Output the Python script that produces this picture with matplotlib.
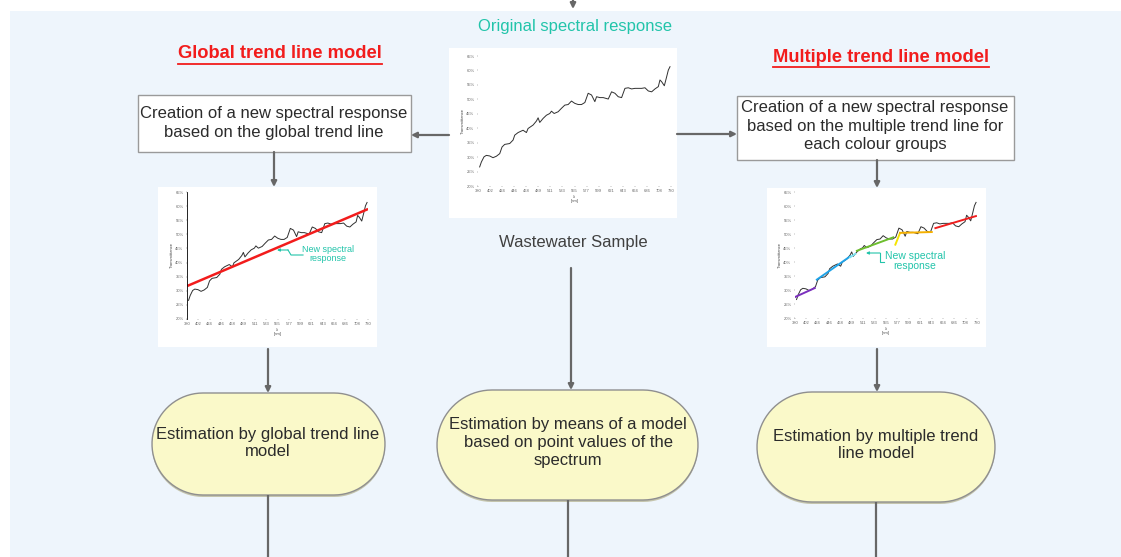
import numpy as np
import matplotlib.pyplot as plt
from matplotlib.patches import Rectangle, Polygon

#++++++++++++++++++++++++++++++++++++
# Data
#++++++++++++++++++++++++++++++++++++

# original spectral response of the wastewater sample
wl_nm = [383.0, 386.1, 390.9, 395.1, 401.2, 407.2, 413.3, 419.4, 423.6, 428.4,
         437.5, 443.6, 446.6, 452.7, 461.7, 467.8, 470.8, 479.9, 486.0, 489.0,
         492.0, 498.1, 504.1, 510.2, 513.2, 518.1, 525.3, 531.4, 537.4, 543.5,
         549.5, 555.6, 561.7, 567.7, 573.8, 579.8, 585.9, 591.9, 595.0, 601.0,
         607.1, 616.2, 622.2, 628.3, 634.3, 640.4, 646.5, 652.5, 658.6, 664.6,
         676.7, 682.8, 688.8, 694.9, 700.9, 707.0, 710.0, 713.0, 717.9, 722.1,
         725.1, 728.2]
transmittance = [26.6, 28.3, 30.1, 30.6, 30.4, 29.8, 30.3, 31.2, 33.5, 34.4,
                 34.7, 35.9, 37.6, 38.5, 39.3, 38.5, 39.9, 41.1, 42.5, 43.6,
                 42.0, 43.4, 44.5, 45.1, 45.9, 45.1, 45.7, 46.9, 48.0, 48.2,
                 49.4, 48.6, 48.2, 48.2, 48.9, 52.1, 51.5, 49.2, 50.9, 50.6,
                 50.6, 50.1, 52.6, 52.1, 50.9, 50.6, 53.8, 54.0, 53.6, 53.8,
                 53.8, 54.0, 52.9, 52.6, 53.6, 54.4, 56.7, 56.1, 54.7, 57.8,
                 60.1, 61.3]

# global trend line (left model)
global_wl = [383, 728]
global_t = [31.9, 58.8]

# multiple trend lines, one per colour group (right model)
group_colors = ['#7B2FBE', '#1FA3E8', '#7FE3F0', '#6DBE2E', '#F5E400', '#F5B000', '#F01E1E']
group_wl = [[379, 418], [422, 486], [486, 496], [499, 569], [573, 582], [582, 643], [650, 728]]
group_t = [[27.4, 30.7], [33.7, 42.0], [41.7, 42.9], [44.0, 48.8], [46.2, 50.4], [50.4, 50.7], [52.1, 56.4]]

y_ticks = [20, 25, 30, 35, 40, 45, 50, 55, 60, 65]
y_tick_labels = ['20%', '25%', '30%', '35%', '40%', '45%', '50%', '55%', '60%', '65%']
x_tick_labels = ['380', '402', '424', '446', '468', '489', '511', '533', '555',
                 '577', '599', '621', '643', '664', '686', '708', '730']

#++++++++++++++++++++++++++++++++++++
# Settings
#++++++++++++++++++++++++++++++++++++

W, H = 1121, 557
FONT = 'Liberation Sans'
ARROW_C = '#676767'
TEAL = '#22C4AA'
RED = '#F21C1C'
TXT = '#2b2b2b'
FS = 12

plt.rcParams['font.family'] = FONT

fig = plt.figure(figsize=(W / 100, H / 100), dpi=100)
ax = fig.add_axes([0, 0, 1, 1])
ax.set_xlim(0, W)
ax.set_ylim(H, 0)
ax.axis('off')


def px_axes(x0, y0, x1, y1):
    return fig.add_axes([x0 / W, 1 - y1 / H, (x1 - x0) / W, (y1 - y0) / H])


def arrow(x0, y0, x1, y1):
    ax.annotate('', xy=(x1, y1), xytext=(x0, y0),
                arrowprops=dict(arrowstyle='-|>', color=ARROW_C, lw=1.6,
                                mutation_scale=8, shrinkA=0, shrinkB=0), zorder=3)


def line(x0, y0, x1, y1):
    ax.plot([x0, x1], [y0, y1], color=ARROW_C, lw=1.6, zorder=3, solid_capstyle='butt')


def pill_outline(x, y, w, h):
    # stadium shape: flat top/bottom, half-circle ends
    r = h / 2
    t = np.linspace(-np.pi / 2, np.pi / 2, 40)
    right = np.column_stack([x + w - r + r * np.cos(t), y + r + r * np.sin(t)])
    left = np.column_stack([x + r - r * np.cos(t), y + r - r * np.sin(t)])
    return np.vstack([right, left])


# background panel
ax.add_patch(Rectangle((10, 11), W - 10, H - 11, fc='#EEF5FC', ec='none', zorder=0))
arrow(573, 0, 573, 9)

# headings
ax.text(575, 26, 'Original spectral response', color=TEAL, fontsize=FS,
        ha='center', va='center')
titles = [ax.text(280, 54, 'Global trend line model', color=RED, fontsize=13.2,
                  fontweight='bold', ha='center', va='center'),
          ax.text(881, 57, 'Multiple trend line model', color=RED, fontsize=13.2,
                  fontweight='bold', ha='center', va='center')]

# rectangle boxes
ax.add_patch(Rectangle((138, 95), 273, 57, fc='white', ec='#9a9a9a', lw=1, zorder=2))
ax.text(274, 123, 'Creation of a new spectral response\nbased on the global trend line',
        color=TXT, fontsize=FS, ha='center', va='center', linespacing=1.28, zorder=4)
ax.add_patch(Rectangle((737, 96), 277, 64, fc='white', ec='#9a9a9a', lw=1, zorder=2))
ax.text(875, 126, 'Creation of a new spectral response\nbased on the multiple trend line for\neach colour groups',
        color=TXT, fontsize=FS, ha='center', va='center', linespacing=1.3, zorder=4)

# chart backgrounds
ax.add_patch(Rectangle((449, 48), 228, 170, fc='white', ec='none', zorder=1))
ax.add_patch(Rectangle((158, 187), 219, 160, fc='white', ec='none', zorder=1))
ax.add_patch(Rectangle((767, 188), 219, 159, fc='white', ec='none', zorder=1))
ax.text(573, 243, 'Wastewater Sample', color='#404040', fontsize=FS,
        ha='center', va='center')

# pills
pills = [(152, 393, 233, 102, 'Estimation by global trend line\nmodel', 268, 443),
         (437, 390, 261, 110, 'Estimation by means of a model\nbased on point values of the\nspectrum', 568, 443),
         (757, 392, 238, 110, 'Estimation by multiple trend\nline model', 876, 445)]
for x, y, w, h, label, tx, ty in pills:
    ax.add_patch(Polygon(pill_outline(x, y + 2, w, h), closed=True,
                         fc='#c4c4ac', ec='none', zorder=1))
    ax.add_patch(Polygon(pill_outline(x, y, w, h), closed=True,
                         fc='#FAF9C9', ec='#8f8f8f', lw=1, zorder=2))
    ax.text(tx, ty, label, color=TXT, fontsize=FS, ha='center', va='center',
            linespacing=1.25, zorder=4)

# connectors
arrow(449, 135, 411, 135)
arrow(677, 134, 737, 134)
arrow(274, 152, 274, 187)
arrow(877, 160, 877, 188)
arrow(268, 349, 268, 393)
arrow(571, 268, 571, 390)
arrow(877, 349, 877, 392)
line(268, 495, 268, H)
line(568, 500, 568, H)
line(876, 502, 876, H)

# underline the headings
fig.canvas.draw()
inv = ax.transData.inverted()
for t in titles:
    bb = t.get_window_extent()
    (xa, ya), (xb, yb) = inv.transform([[bb.x0, bb.y0], [bb.x1, bb.y1]])
    ax.plot([xa, xb], [ya + 1, ya + 1], color=RED, lw=1.3)


def small_chart(x0, y0, x1, y1, left_spine=False):
    a = px_axes(x0, y0, x1, y1)
    a.set_facecolor('none')
    a.plot(wl_nm, transmittance, color='#303030', lw=0.7)
    a.set_xlim(380, 730)
    a.set_ylim(20, 65)
    a.set_yticks(y_ticks)
    a.set_yticklabels(y_tick_labels)
    a.set_xticks(np.linspace(380, 730, len(x_tick_labels)))
    a.set_xticklabels(x_tick_labels)
    a.tick_params(labelsize=3, length=1, width=0.3, pad=1.5, colors='#666666')
    for s in a.spines.values():
        s.set_visible(False)
    if left_spine:
        a.spines['left'].set_visible(True)
        a.spines['left'].set_linewidth(0.6)
    a.set_xlabel('λ\n[nm]', fontsize=3, labelpad=1, color='#444444')
    a.set_ylabel('Transmittance', fontsize=3, labelpad=1, color='#444444')
    return a


# center chart: original spectrum
small_chart(478, 56, 671, 186)

# left chart: global trend line
al = small_chart(187, 192, 368, 319, left_spine=True)
al.plot(global_wl, global_t, color=RED, lw=1.8)

# right chart: multiple trend lines
ar = small_chart(795, 192, 977, 318)
for c, gx, gy in zip(group_colors, group_wl, group_t):
    ar.plot(gx, gy, color=c, lw=1.4)

# new spectral response annotations
ax.text(328, 254, 'New spectral\nresponse', color=TEAL, fontsize=6.5, ha='center',
        va='center', linespacing=1.1, zorder=5)
ax.plot([303, 291, 288], [255, 255, 250], color=TEAL, lw=0.8, zorder=5)
ax.annotate('', xy=(277, 250), xytext=(288, 250),
            arrowprops=dict(arrowstyle='-|>', color=TEAL, lw=0.8, mutation_scale=4,
                            shrinkA=0, shrinkB=0), zorder=5)
ax.text(915, 261, 'New spectral\nresponse', color=TEAL, fontsize=7.5, ha='center',
        va='center', linespacing=1.1, zorder=5)
ax.plot([884, 880, 880], [262, 262, 253], color=TEAL, lw=0.8, zorder=5)
ax.annotate('', xy=(866, 253), xytext=(880, 253),
            arrowprops=dict(arrowstyle='-|>', color=TEAL, lw=0.8, mutation_scale=4,
                            shrinkA=0, shrinkB=0), zorder=5)

fig.savefig('out.png', dpi=100)
